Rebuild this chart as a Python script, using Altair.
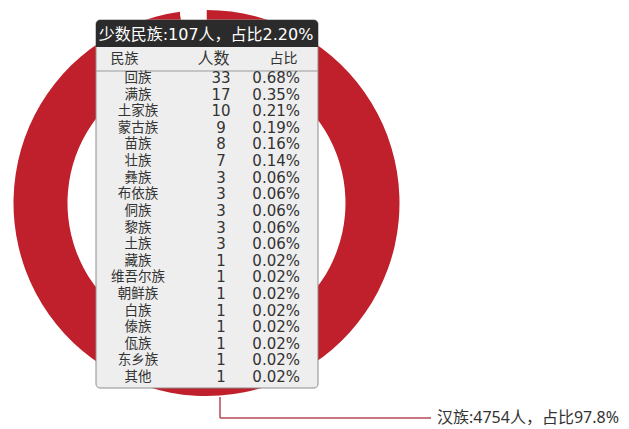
import altair as alt
import pandas as pd

# ---- data ----
groups = ["汉族", "少数民族"]
group_counts = [4754, 107]
group_pct_labels = ["97.8%", "2.20%"]

minority_names = ["回族", "满族", "土家族", "蒙古族", "苗族", "壮族", "彝族", "布依族", "侗族",
                  "黎族", "土族", "藏族", "维吾尔族", "朝鲜族", "白族", "傣族", "佤族", "东乡族", "其他"]
minority_counts = [33, 17, 10, 9, 8, 7, 3, 3, 3, 3, 3, 1, 1, 1, 1, 1, 1, 1, 1]
minority_pcts = ["0.68%", "0.35%", "0.21%", "0.19%", "0.16%", "0.14%", "0.06%", "0.06%", "0.06%",
                 "0.06%", "0.06%", "0.02%", "0.02%", "0.02%", "0.02%", "0.02%", "0.02%", "0.02%", "0.02%"]
table_headers = ["民族", "人数", "占比"]

CJK = "Noto Sans CJK SC"
NUM = "DejaVu Sans, Noto Sans CJK SC"
NARROW = "Noto Sans, Noto Sans CJK SC"
RED = "#c0202b"
TXT = "#333333"

one = pd.DataFrame({"a": [0]})

# ---- donut ----
donut_df = pd.DataFrame({"group": groups, "count": group_counts, "order": [0, 1]})
donut = alt.Chart(donut_df).mark_arc(outerRadius=193, innerRadius=139).encode(
    theta=alt.Theta("count:Q", stack=True),
    order=alt.Order("order:Q"),
    color=alt.Color("group:N", scale=alt.Scale(domain=groups, range=[RED, "#ffffff"]), legend=None),
    x=alt.value(198.5),
    y=alt.value(195),
)

# ---- leader line + label for 汉族 ----
lead_color = "#b5485a"
lead_v = alt.Chart(one).mark_rule(color=lead_color, strokeWidth=1.5).encode(
    x=alt.value(212), y=alt.value(389), y2=alt.value(410))
lead_h = alt.Chart(one).mark_rule(color=lead_color, strokeWidth=1.5).encode(
    x=alt.value(212), x2=alt.value(423), y=alt.value(410))
han_df = pd.DataFrame({"t": [f"{groups[0]}:{group_counts[0]}人，占比{group_pct_labels[0]}"]})
han_label = alt.Chart(han_df).mark_text(font=NARROW, fontSize=16, color=TXT, align="left",
                                        baseline="middle").encode(
    x=alt.value(429), y=alt.value(410), text="t:N")

# ---- tooltip box ----
box = alt.Chart(one).mark_rect(fill="#eeeeee", stroke="#8c8c8c", strokeWidth=1, cornerRadius=4).encode(
    x=alt.value(88), x2=alt.value(310), y=alt.value(12), y2=alt.value(380))
head = alt.Chart(one).mark_rect(fill="#2b2b2b", cornerRadiusTopLeft=4, cornerRadiusTopRight=4).encode(
    x=alt.value(88), x2=alt.value(310), y=alt.value(12), y2=alt.value(39))
title_df = pd.DataFrame({"t": [f"{groups[1]}:{group_counts[1]}人，占比{group_pct_labels[1]}"]})
title = alt.Chart(title_df).mark_text(font=NUM, fontSize=16, color="#ffffff", align="center",
                                      baseline="middle").encode(
    x=alt.value(198), y=alt.value(26.5), text="t:N")
sep = alt.Chart(one).mark_rule(color="#9a9a9a", strokeWidth=1).encode(
    x=alt.value(88), x2=alt.value(310), y=alt.value(63))

hdr_df = pd.DataFrame({"h": table_headers})
hdr_pos = [116.5, 205.5, 275.5]
hdr_size = [14, 16, 14]
hdr_layers = []
for h, xp, fs in zip(table_headers, hdr_pos, hdr_size):
    hdr_layers.append(
        alt.Chart(hdr_df).transform_filter(alt.datum.h == h).mark_text(
            font=CJK, fontSize=fs, color=TXT, align="center", baseline="middle").encode(
            x=alt.value(xp), y=alt.value(51), text="h:N"))

rows_df = pd.DataFrame({"idx": list(range(len(minority_names))), "name": minority_names,
                        "count": minority_counts, "pct": minority_pcts})
yenc = alt.Y("idx:O", scale=alt.Scale(type="point", domain=list(range(len(minority_names))),
                                      range=[70, 369], padding=0), axis=None)
col_name = alt.Chart(rows_df).mark_text(font=CJK, fontSize=13.5, color=TXT, align="center",
                                        baseline="middle").encode(
    x=alt.value(130), y=yenc, text="name:N")
col_count = alt.Chart(rows_df).mark_text(font=NUM, fontSize=15, color=TXT, align="center",
                                         baseline="middle").encode(
    x=alt.value(213), y=yenc, text="count:Q")
col_pct = alt.Chart(rows_df).mark_text(font=NUM, fontSize=15, color=TXT, align="right",
                                       baseline="middle").encode(
    x=alt.value(292), y=yenc, text="pct:N")

chart = alt.layer(
    donut, lead_v, lead_h, han_label, box, head, title, sep, *hdr_layers,
    col_name, col_count, col_pct
).properties(
    width=613, height=420, padding=0,
    autosize=alt.AutoSizeParams(type="none"),
).configure_view(stroke=None)

chart.save("out.html", embed_options={"renderer": "svg", "actions": False})
